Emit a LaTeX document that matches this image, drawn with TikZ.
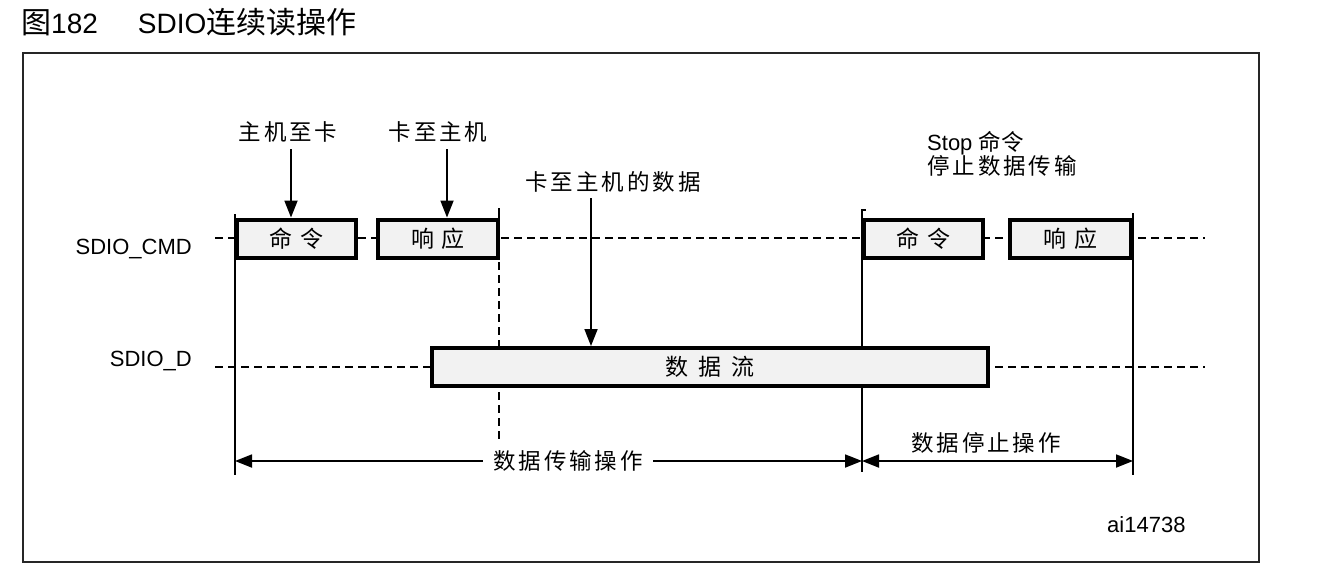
\documentclass[tikz,border=0pt]{standalone}
\usepackage{fontspec}
\setmainfont{Liberation Sans}
\newfontfamily\cjk{Noto Sans CJK SC}
\newfontfamily\cjksp[LetterSpace=13]{Noto Sans CJK SC}
\usetikzlibrary{arrows.meta}

\tikzset{
  frame/.style={draw=black!85, line width=2pt},
  sigline/.style={line width=1.4pt, dash pattern=on 8pt off 5pt},
  marker/.style={line width=1.8pt},
  dashmarker/.style={line width=1.6pt, dash pattern=on 8pt off 5pt},
  slot/.style={draw, line width=4pt, fill=black!5, inner sep=0pt,
    minimum height=38pt, font=\fontsize{23}{26}\selectfont\cjk},
  downarrow/.style={line width=1.8pt, -{Triangle[length=17pt,width=13pt]}},
  span/.style={line width=1.8pt, -{Triangle[length=17pt,width=13pt]}},
  cnlabel/.style={inner sep=0pt, font=\fontsize{22.5}{26}\selectfont\cjksp},
  sglabel/.style={inner sep=0pt, anchor=east, font=\fontsize{22}{26}\selectfont},
}

\begin{document}
\begin{tikzpicture}[x=1pt, y=-1pt]
  \useasboundingbox (0,0) rectangle (1333,579);

  % caption and outer frame
  \node[inner sep=0pt, anchor=west, font=\fontsize{28}{30}\selectfont] (caption) at (21,22)
    {{\fontsize{30}{30}\selectfont\cjk 图}182\hspace{40pt}SDIO{\fontsize{30}{30}\selectfont\cjk 连续读操作}};
  \draw[frame] (23,53) rectangle (1259,562);

  % signal names
  \node[sglabel] (cmdname) at (192,249) {SDIO\_CMD};
  \node[sglabel] (dname) at (192,361) {SDIO\_D};

  % idle levels of both lines
  \draw[sigline] (215,238) -- (1205,238);
  \draw[sigline] (215,367) -- (1205,367);

  % timing markers
  \draw[marker] (235,214) -- (235,475);
  \draw[marker] (862,209) -- (862,472);
  \draw[marker] (862,210) -- (866,210);
  \draw[marker] (1133,213) -- (1133,475);
  \draw[marker] (499,208) -- (499,219);
  \draw[dashmarker] (499,262) -- (499,440);

  % command line tokens
  \node[slot, minimum width=119pt] (cmd1) at (296.5,238.5) {命\hspace{8pt}令};
  \node[slot, minimum width=120pt] (rsp1) at (438,238.5) {响\hspace{8pt}应};
  \node[slot, minimum width=119pt] (cmd2) at (923.5,238.5) {命\hspace{8pt}令};
  \node[slot, minimum width=121pt] (rsp2) at (1070.5,238.5) {响\hspace{8pt}应};

  % data line token
  \node[slot, minimum width=556pt] (data) at (710,367) {数\hspace{10pt}据\hspace{10pt}流};

  % annotations with pointers
  \node[cnlabel] (h2c) at (288,132) {主机至卡};
  \node[cnlabel] (c2h) at (438,132) {卡至主机};
  \node[cnlabel] (c2hd) at (613,182) {卡至主机的数据};
  \node[inner sep=0pt, anchor=north west, align=left, font=\fontsize{22}{23}\selectfont] (stop) at (927,131)
    {Stop {\fontsize{22.5}{23}\selectfont\cjk 命令}\\{\fontsize{22.5}{23}\selectfont\cjksp 停止数据传输}};

  \coordinate (p1) at (291,149);
  \coordinate (p2) at (447,149);
  \coordinate (p3) at (591,198);
  \draw[downarrow] (p1) -- (p1 |- cmd1.north);
  \draw[downarrow] (p2) -- (p2 |- rsp1.north);
  \draw[downarrow] (p3) -- (p3 |- data.north);

  % phase spans
  \node[cnlabel, inner xsep=10pt] (xfer) at (568,461) {数据传输操作};
  \coordinate (tA) at (235,461);
  \coordinate (tB) at (862,461);
  \coordinate (tC) at (1133,461);
  \draw[span] (xfer.west) -- (tA);
  \draw[span] (xfer.east) -- (tB);
  \draw[span, {Triangle[length=17pt,width=13pt]}-{Triangle[length=17pt,width=13pt]}] (tB) -- (tC);
  \node[cnlabel] (halt) at (986,443) {数据停止操作};

  % figure id
  \node[inner sep=0pt, anchor=west, font=\fontsize{22}{26}\selectfont] (figid) at (1107,525) {ai14738};
\end{tikzpicture}
\end{document}
